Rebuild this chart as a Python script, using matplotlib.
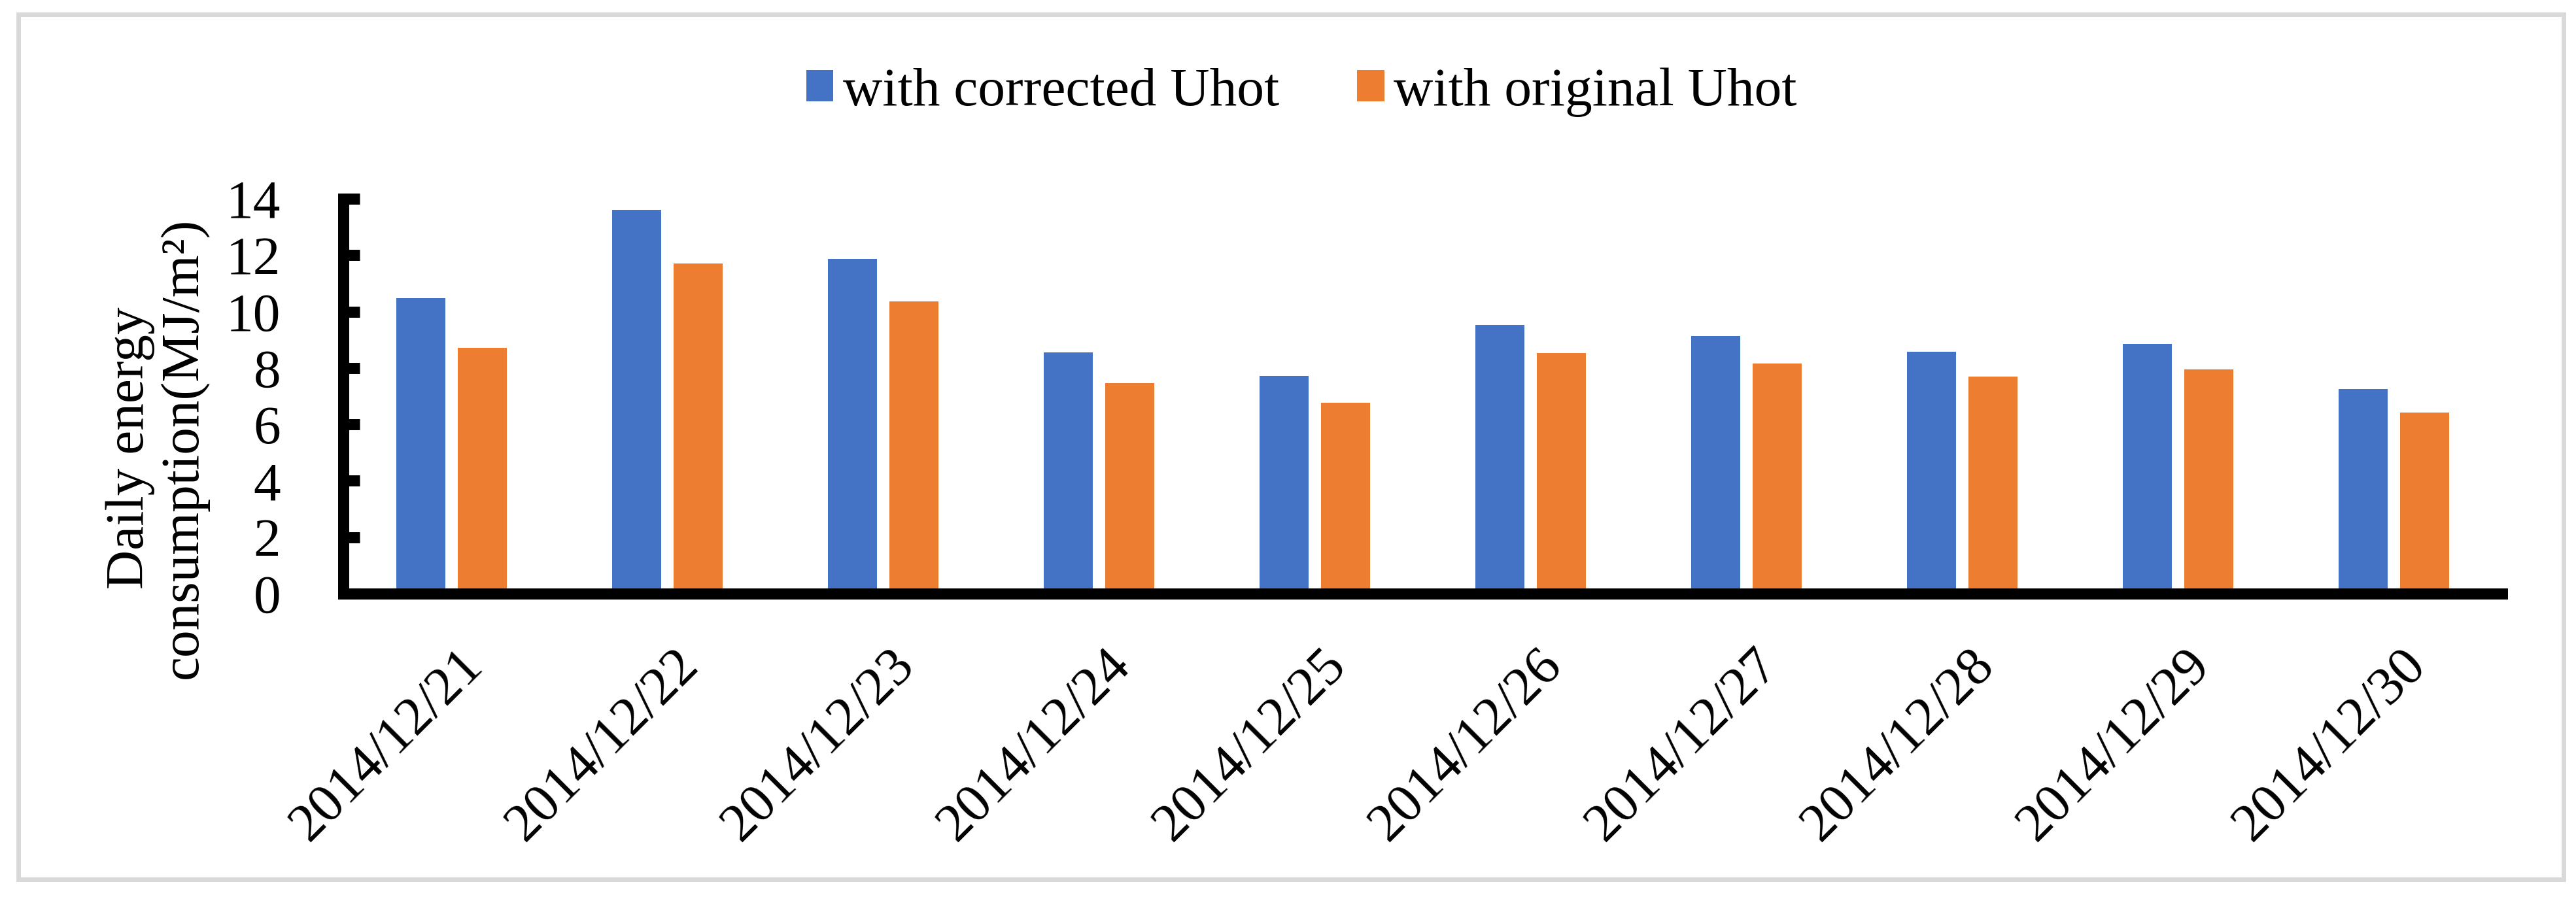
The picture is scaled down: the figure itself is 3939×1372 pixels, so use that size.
import numpy as np, matplotlib; matplotlib.use("Agg")
import matplotlib.pyplot as plt
import matplotlib.transforms as mtransforms
from matplotlib.patches import Rectangle

plt.rcParams['font.family'] = ['Liberation Serif', 'DejaVu Serif']

dates = ["2014/12/21", "2014/12/22", "2014/12/23", "2014/12/24", "2014/12/25",
         "2014/12/26", "2014/12/27", "2014/12/28", "2014/12/29", "2014/12/30"]
corrected = [10.47, 13.60, 11.87, 8.56, 7.72, 9.53, 9.14, 8.57, 8.85, 7.25]
original = [8.71, 11.70, 10.35, 7.46, 6.77, 8.52, 8.16, 7.70, 7.94, 6.42]
labels = ["with corrected Uhot", "with original Uhot"]
yticks = [0, 2, 4, 6, 8, 10, 12, 14]

blue, orange = "#4472C4", "#ED7D31"
fs = 60

fig = plt.figure(figsize=(39.39, 13.72), dpi=100)
# light grey frame round the whole chart
fig.patches.append(Rectangle((28/3939, 1-1345/1372), (3920-28)/3939, (1345-22)/1372,
                             transform=fig.transFigure, fill=False, ec="#d9d9d9", lw=5))
ax = fig.add_axes([525/3939, 1-908/1372, (3826-525)/3939, (908-304)/1372])

x = np.arange(len(dates))
w, off = 0.227, 0.1424
ax.bar(x-off, corrected, w, color=blue, label=labels[0], zorder=2)
ax.bar(x+off, original, w, color=orange, label=labels[1], zorder=2)

ax.set_xlim(-0.5, 9.5); ax.set_ylim(0, 14)
ax.set_yticks(yticks)
ax.set_xticks(x)
ax.set_xticklabels(dates, rotation=45, ha="right", va="top", rotation_mode="anchor")
for s in ("top", "right"): ax.spines[s].set_visible(False)
for s in ("left", "bottom"):
    ax.spines[s].set_linewidth(12.2); ax.spines[s].set_zorder(3)
ax.tick_params(axis="y", direction="in", length=18, width=12.2, pad=69, labelsize=fs)
ax.tick_params(axis="x", length=0, pad=52, labelsize=fs)
shift = mtransforms.ScaledTranslation(10/100, 0, fig.dpi_scale_trans)
for lb in ax.get_xticklabels(): lb.set_transform(lb.get_transform() + shift)

fig.text(240/3939, 1-685/1372, "Daily energy\nconsumption(MJ/m²)", rotation=90,
         ha="center", va="center", multialignment="center", fontsize=fs, linespacing=1.12)

fig.legend(loc="center", bbox_to_anchor=(1990/3939, 1-141/1372), ncol=2, frameon=False,
           fontsize=fs, handlelength=0.5, handleheight=0.5, handletextpad=0.17,
           columnspacing=1.43)

fig.savefig("out.png", dpi=100)
